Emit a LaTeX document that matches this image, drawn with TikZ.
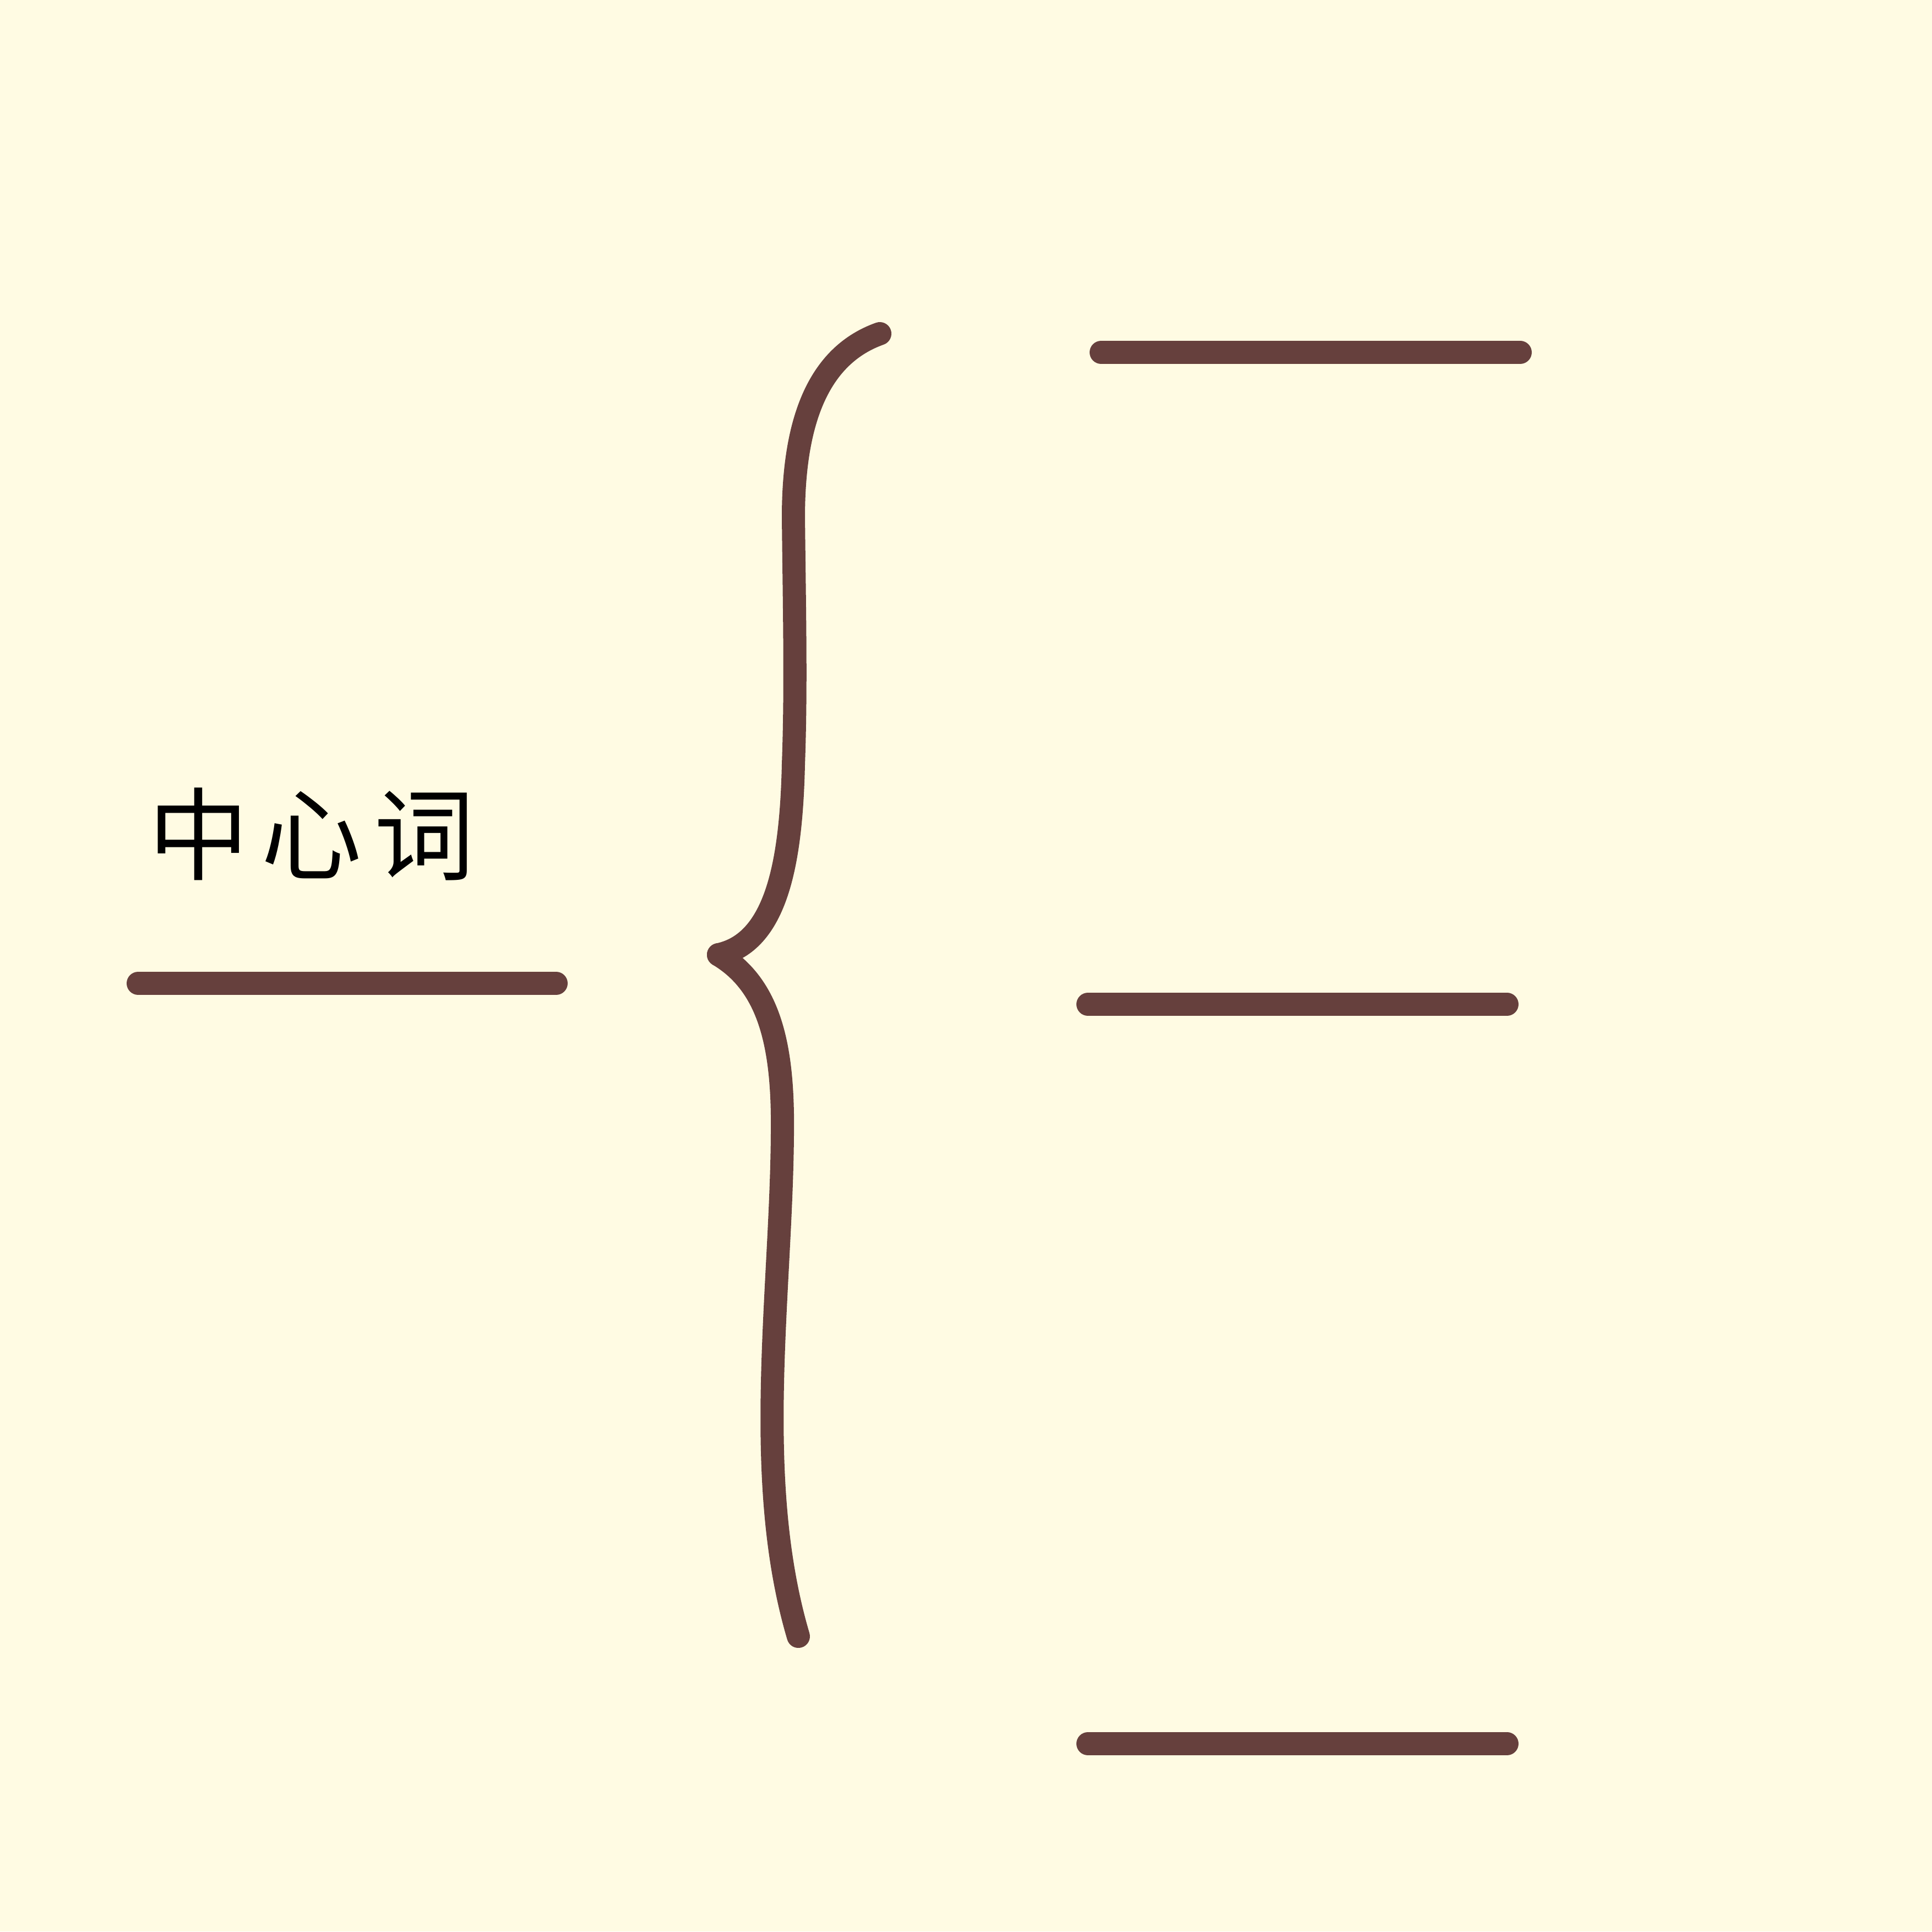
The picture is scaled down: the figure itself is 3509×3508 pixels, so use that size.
\documentclass[tikz,border=0pt]{standalone}
\usepackage{fontspec}
\usepackage{tikz}
\newfontfamily\cjk{Noto Sans CJK SC}
\definecolor{paper}{RGB}{255,251,227}
\definecolor{brownline}{RGB}{102,64,61}
\tikzstyle{stroke} = [draw=brownline,line width=4.2mm,line cap=round]

\begin{document}
\begin{tikzpicture}[x=0.01cm,y=-0.01cm,
  word node/.style={inner sep=0pt,font=\cjk\fontsize{52pt}{60pt}\selectfont}]

  \fill[paper] (0,0) rectangle (3509,3508);
  \useasboundingbox (0,0) rectangle (3509,3508);

  \node[word node] (word) at (566,1515) {中\kern0.22cm心\kern0.22cm词};

  \coordinate (l1) at (251,1786);
  \coordinate (l2) at (1010,1786);
  \coordinate (top) at (1598,606);
  \coordinate (cusp) at (1305,1734);
  \coordinate (bottom) at (1450,2972);
  \coordinate (a1) at (2000,640);
  \coordinate (a2) at (2761,640);
  \coordinate (b1) at (1976,1824);
  \coordinate (b2) at (2737,1824);
  \coordinate (c1) at (1976,3167);
  \coordinate (c2) at (2737,3167);

  \path[stroke] (l1) -- (l2);
  \path[stroke] (a1) -- (a2);
  \path[stroke] (b1) -- (b2);
  \path[stroke] (c1) -- (c2);

  % brace
  \path[stroke] (top) .. controls (1477,649) and (1441,783) .. (1441,940)
    .. controls (1443,1119) and (1446,1253) .. (1441,1388)
    .. controls (1437,1567) and (1410,1712) .. (cusp);
  \path[stroke] (cusp) .. controls (1399,1790) and (1423,1902) .. (1421,2059)
    .. controls (1419,2350) and (1365,2685) .. (bottom);

\end{tikzpicture}
\end{document}
